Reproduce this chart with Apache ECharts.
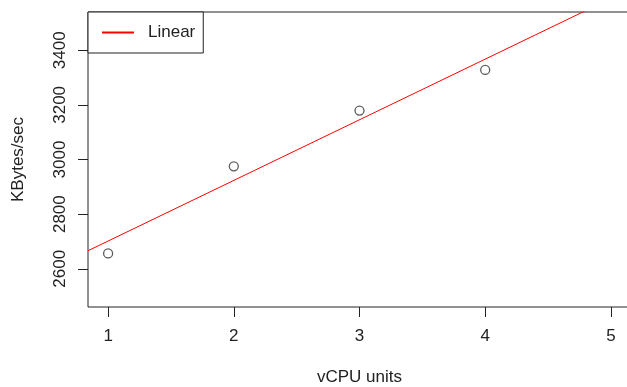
<!DOCTYPE html>
<html>
<head>
<meta charset="utf-8">
<script src="https://cdn.jsdelivr.net/npm/echarts@6/dist/echarts.min.js"></script>
<style>html,body{margin:0;padding:0;background:#fff}#c{width:627px;height:387px}</style>
</head>
<body>
<div id="c"></div>
<script>
var vcpu = [1, 2, 3, 4];
var kbytes = [2656, 2975, 3179, 3328];
var xTicks = [1, 2, 3, 4, 5];
var yTicks = [2600, 2800, 3000, 3200, 3400];
var xRange = [0.84, 5.16];
var yRange = [2460, 3540];
var seriesName = 'Linear';

// least-squares fit (abline of lm)
var n = vcpu.length, mx = 0, my = 0;
for (var i = 0; i < n; i++) { mx += vcpu[i]; my += kbytes[i]; }
mx /= n; my /= n;
var sxy = 0, sxx = 0;
for (var i = 0; i < n; i++) { sxy += (vcpu[i]-mx)*(kbytes[i]-my); sxx += (vcpu[i]-mx)*(vcpu[i]-mx); }
var slope = sxy / sxx, icpt = my - slope*mx;
var fitLine = xRange.map(function(x){ return [x, icpt + slope*x]; });

var font = '"Liberation Sans", Arial, sans-serif';
var plain = function(v){ return String(v); };
var chart = echarts.init(document.getElementById('c'), null, {renderer: 'canvas'});
chart.setOption({
  animation: false,
  backgroundColor: '#fff',
  grid: {left: 88, top: 12, width: 543, height: 295, outerBoundsMode: 'none', containLabel: false,
         show: true, borderColor: '#222', borderWidth: 1, backgroundColor: 'transparent'},
  legend: {
    left: 88, top: 12,
    data: [{name: seriesName, icon: 'rect'}],
    itemWidth: 32, itemHeight: 2, itemGap: 0,
    padding: [12, 8, 12, 14],
    borderColor: '#222', borderWidth: 1, borderRadius: 0,
    backgroundColor: '#fff',
    textStyle: {fontFamily: font, fontSize: 17, color: '#222', padding: [0, 0, 0, 9]}
  },
  xAxis: {
    type: 'value', min: xRange[0], max: xRange[1],
    splitLine: {show: false},
    axisLine: {show: false},
    axisTick: {show: true, length: 10, lineStyle: {color: '#222'}, customValues: xTicks},
    axisLabel: {fontFamily: font, fontSize: 17, color: '#222', margin: 21, customValues: xTicks, formatter: plain},
    name: 'vCPU units', nameLocation: 'middle', nameGap: 62,
    nameTextStyle: {fontFamily: font, fontSize: 17, color: '#222'}
  },
  yAxis: {
    type: 'value', min: yRange[0], max: yRange[1],
    splitLine: {show: false},
    axisLine: {show: false},
    axisTick: {show: true, length: 10, lineStyle: {color: '#222'}, customValues: yTicks},
    axisLabel: {fontFamily: font, fontSize: 17, color: '#222', rotate: 90, margin: 19, customValues: yTicks, formatter: plain},
    name: 'KBytes/sec', nameLocation: 'middle', nameGap: 61, nameRotate: 90,
    nameTextStyle: {fontFamily: font, fontSize: 17, color: '#222'}
  },
  series: [
    {
      name: 'points', type: 'scatter', data: vcpu.map(function(x, i){ return [x, kbytes[i]]; }),
      symbol: 'circle', symbolSize: 9,
      itemStyle: {color: 'rgba(0,0,0,0)', borderColor: '#333', borderWidth: 1.3}
    },
    {
      name: seriesName, type: 'line', data: fitLine, symbol: 'none', clip: true,
      lineStyle: {color: '#ff0000', width: 1},
      itemStyle: {color: '#ff0000'}
    }
  ]
});
</script>
</body>
</html>
